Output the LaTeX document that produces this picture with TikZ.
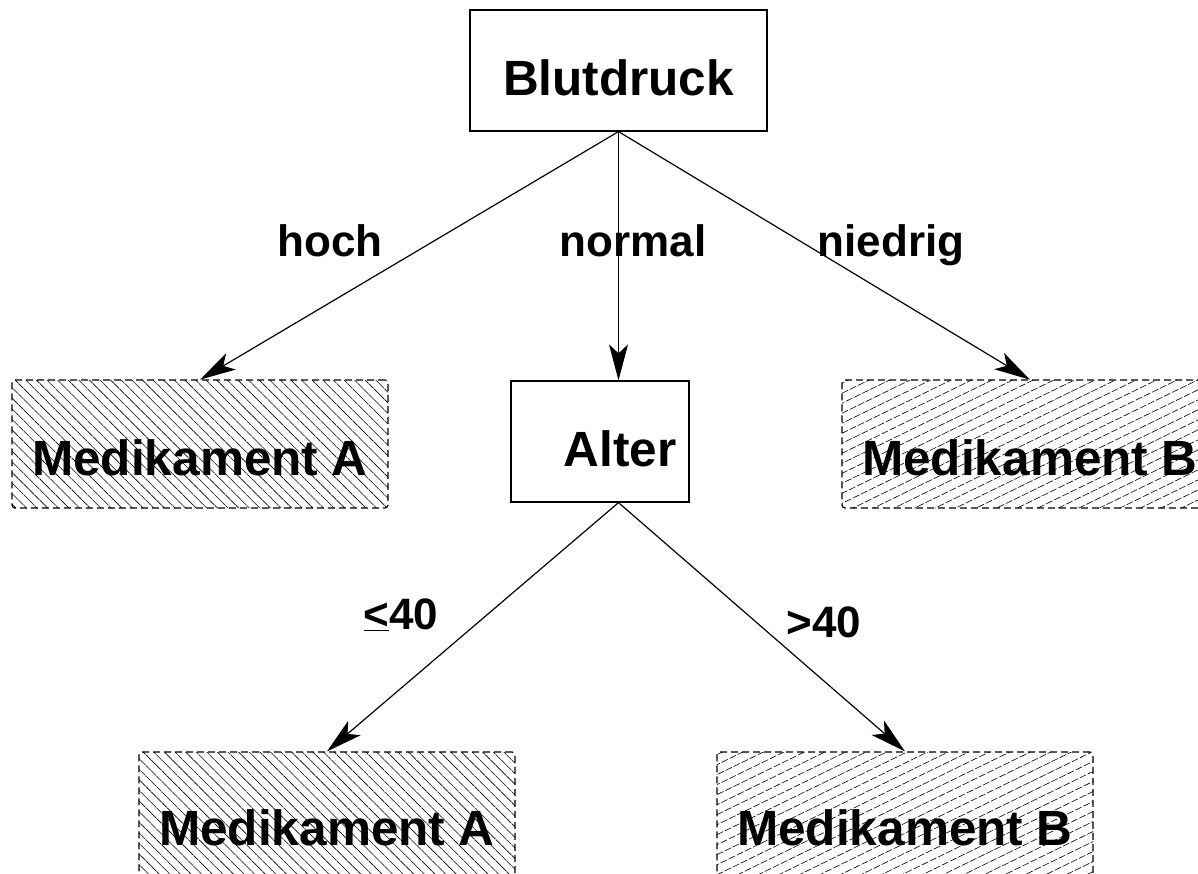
\documentclass[tikz,border=0pt]{standalone}
\usepackage{fontspec}
\setmainfont{Liberation Sans}
\usetikzlibrary{arrows.meta,patterns.meta}

\tikzset{
  plain/.style={draw, line width=1.2pt, inner sep=0pt,
    font=\fontsize{49.5}{59}\selectfont\bfseries, text depth=0pt},
  leaf/.style={plain, dash pattern=on 7pt off 4pt, rounded corners=3pt,
    minimum width=376pt, minimum height=128pt, text height=62pt},
  drugA/.style={leaf, pattern={Lines[angle=-45,distance=7.5pt,line width=0.6pt]}},
  drugB/.style={leaf, pattern={Lines[angle=26,distance=9pt,line width=0.6pt]}},
  branch/.style={font=\fontsize{44}{52}\selectfont\bfseries, inner sep=0pt, anchor=base},
  arr/.style={line width=1.2pt, -{Stealth[length=36pt,width=19pt,inset=9pt]}}
}

\begin{document}
\begin{tikzpicture}[x=1pt,y=-1pt]
  \useasboundingbox (0,0) rectangle (1198,874);
  \clip (0,0) rectangle (1198,874);

  % inner decision nodes
  \node[plain, minimum width=297pt, minimum height=121pt, text height=51pt]
    (bp) at (618.5,70.5) {Blutdruck};
  \node[plain, minimum width=178pt, minimum height=121pt, text height=49pt]
    (age) at (600,441.5) {\hspace*{40pt}Alter};

  % leaves
  \node[drugA] (ma1) at (200,444) {Medikament A};
  \node[drugB] (mb1) at (1030,444) {Medikament B};
  \node[drugA, text height=58pt] (ma2) at (327,816) {Medikament A};
  \node[drugB, text height=58pt] (mb2) at (905,816) {Medikament B};

  % branches
  \draw[arr] (bp.south) -- (ma1.north);
  \draw[arr] (bp.south) -- (age.north -| bp.south);
  \draw[arr] (bp.south) -- (mb1.north);
  \draw[arr] (age.south -| bp.south) -- (ma2.north);
  \draw[arr] (age.south -| bp.south) -- (mb2.north);

  % branch labels
  \node[branch] (lhoch) at (330,257) {hoch};
  \node[branch] (lnorm) at (633,257) {normal};
  \node[branch] (lnied) at (891,257) {niedrig};
  \node[branch] (lle) at (401,629) {\underline{<}40};
  \node[branch] (lgt) at (824,637) {>40};
\end{tikzpicture}
\end{document}
